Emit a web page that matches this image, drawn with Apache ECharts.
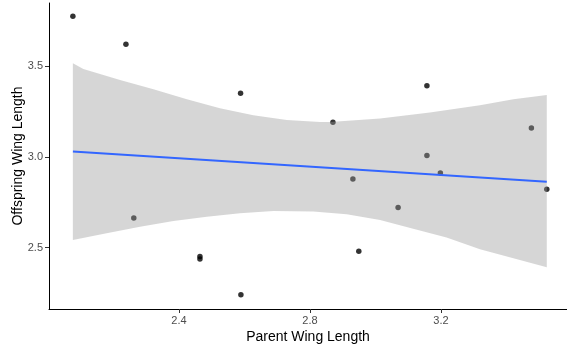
<!DOCTYPE html>
<html>
<head>
<meta charset="utf-8">
<script src="https://cdn.jsdelivr.net/npm/echarts@6/dist/echarts.min.js"></script>
<style>html,body{margin:0;padding:0;background:#fff}#c{width:567px;height:352px}</style>
</head>
<body>
<div id="c"></div>
<script>
// Observed points: [parent wing length, offspring wing length]
var points = [
  [2.076, 3.776], [2.238, 3.621], [2.588, 3.351], [3.157, 3.393],
  [2.870, 3.191], [3.476, 3.160], [2.262, 2.664], [2.464, 2.452],
  [2.464, 2.437], [2.589, 2.241], [3.157, 3.008], [2.931, 2.879],
  [3.198, 2.912], [3.069, 2.721], [2.949, 2.480], [3.523, 2.822]
];
// Fitted line endpoints
var fitLine = [[2.076, 3.030], [3.523, 2.864]];
// Confidence band edges
var bandUpper = [
  [2.076, 3.517], [2.108, 3.485], [2.220, 3.424], [2.322, 3.374], [2.424, 3.319],
  [2.525, 3.269], [2.627, 3.230], [2.729, 3.204], [2.831, 3.193], [2.861, 3.193],
  [3.014, 3.212], [3.166, 3.245], [3.319, 3.285], [3.421, 3.318], [3.523, 3.342]
];
var bandLower = [
  [2.076, 2.542], [2.179, 2.579], [2.281, 2.616], [2.383, 2.647], [2.485, 2.671],
  [2.586, 2.690], [2.688, 2.702], [2.810, 2.700], [2.912, 2.684], [3.014, 2.653],
  [3.115, 2.605], [3.217, 2.556], [3.319, 2.491], [3.421, 2.442], [3.523, 2.392]
];
var xTicks = [2.4, 2.8, 3.2];
var yTicks = [2.5, 3.0, 3.5];

var chart = echarts.init(document.getElementById('c'), null, {renderer: 'canvas'});
chart.setOption({
  animation: false,
  grid: {left: 49, top: 3, right: 0, bottom: 43, outerBoundsMode: 'none', containLabel: false},
  xAxis: {
    type: 'value', min: 2.0031, max: 3.5847,
    name: 'Parent Wing Length', nameLocation: 'middle', nameGap: 21, nameMoveOverlap: false,
    nameTextStyle: {fontFamily: 'Liberation Sans', fontSize: 14, color: '#000'},
    axisLine: {show: true, onZero: false, lineStyle: {color: '#000', width: 1}},
    axisTick: {show: true, length: 4, customValues: xTicks, lineStyle: {color: '#333'}},
    axisLabel: {customValues: xTicks, margin: 6, fontFamily: 'Liberation Sans', fontSize: 11, color: '#4d4d4d',
      formatter: function (v) { return v.toFixed(1); }},
    splitLine: {show: false}
  },
  yAxis: {
    type: 'value', min: 2.162, max: 3.849,
    name: 'Offspring Wing Length', nameLocation: 'middle', nameGap: 24, nameRotate: 90, nameMoveOverlap: false,
    nameTextStyle: {fontFamily: 'Liberation Sans', fontSize: 14, color: '#000'},
    axisLine: {show: true, onZero: false, lineStyle: {color: '#000', width: 1}},
    axisTick: {show: true, length: 4, customValues: yTicks, lineStyle: {color: '#333'}},
    axisLabel: {customValues: yTicks, margin: 6, fontFamily: 'Liberation Sans', fontSize: 11, color: '#4d4d4d',
      formatter: function (v) { return v.toFixed(1); }},
    splitLine: {show: false}
  },
  series: [
    {
      type: 'scatter', data: points, symbol: 'circle', symbolSize: 5.5,
      itemStyle: {color: '#000'}, z: 2
    },
    {
      type: 'custom', z: 3, silent: true,
      data: [[2.5, 3.0]],
      renderItem: function (params, api) {
        var pts = [];
        for (var i = 0; i < bandUpper.length; i++) pts.push(api.coord(bandUpper[i]));
        for (var j = bandLower.length - 1; j >= 0; j--) pts.push(api.coord(bandLower[j]));
        return {type: 'polygon', shape: {points: pts},
          style: {fill: 'rgba(153,153,153,0.4)', stroke: null}};
      }
    },
    {
      type: 'line', data: fitLine, showSymbol: false, z: 4,
      lineStyle: {color: '#3366FF', width: 2}
    }
  ]
});
</script>
</body>
</html>
